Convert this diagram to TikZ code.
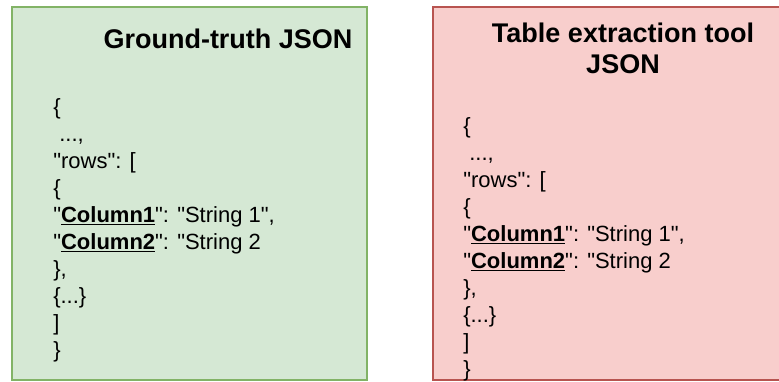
\documentclass[tikz,border=0pt]{standalone}
\usepackage{fontspec}
\setmainfont{Liberation Sans}
\newfontfamily\jsonfont{Liberation Sans}
\definecolor{gfill}{HTML}{D5E8D4}
\definecolor{gdraw}{HTML}{82B366}
\definecolor{rfill}{HTML}{F8CECC}
\definecolor{rdraw}{HTML}{B85450}
\tikzset{
  panel/.style={line width=1.8pt},
  titletext/.style={font=\fontsize{20.25pt}{23.25pt}\selectfont\bfseries, inner sep=0pt, anchor=base, align=center},
  bodytext/.style={font=\fontsize{16.5pt}{20.25pt}\selectfont\jsonfont, inner sep=0pt, anchor=base west},
}
\newcommand{\colkey}[1]{\leavevmode\setbox0\hbox{\textbf{#1}}\rlap{\raisebox{-2.6pt}{\rule{\wd0}{1.3pt}}}\box0}
\newcommand{\jsonblock}[3]{%
  \node[bodytext] (#1a) at (#2,{#3+27*0}) {\{};
  \node[bodytext] (#1b) at (#2,{#3+27*1}) {\ ...,};
  \node[bodytext] (#1c) at (#2,{#3+27*2}) {"rows": [};
  \node[bodytext] (#1d) at (#2,{#3+27*3}) {\{};
  \node[bodytext] (#1e) at (#2,{#3+27*4}) {"\colkey{Column1}": "String 1",};
  \node[bodytext] (#1f) at (#2,{#3+27*5}) {"\colkey{Column2}": "String 2};
  \node[bodytext] (#1g) at (#2,{#3+27*6}) {\},};
  \node[bodytext] (#1h) at (#2,{#3+27*7}) {\{...\}};
  \node[bodytext] (#1i) at (#2,{#3+27*8}) {]};
  \node[bodytext] (#1j) at (#2,{#3+27*9}) {\}};
}
\begin{document}
\begin{tikzpicture}[x=0.75pt,y=-0.75pt]
\useasboundingbox (0,0) rectangle (779,382);
\clip (0,0) rectangle (779,382);
% panels
\draw[panel, fill=gfill, draw=gdraw] (12,7) rectangle (367,380);
\draw[panel, fill=rfill, draw=rdraw] (433,7) rectangle (790,380);
% titles
\node[titletext] (gtitle) at (228,48) {Ground-truth JSON};
\node[titletext] (rtitle1) at (623,42) {Table extraction tool};
\node[titletext] (rtitle2) at (623,73) {JSON};
% bodies
\jsonblock{g}{53}{114}
\jsonblock{r}{463}{133}
\end{tikzpicture}
\end{document}
